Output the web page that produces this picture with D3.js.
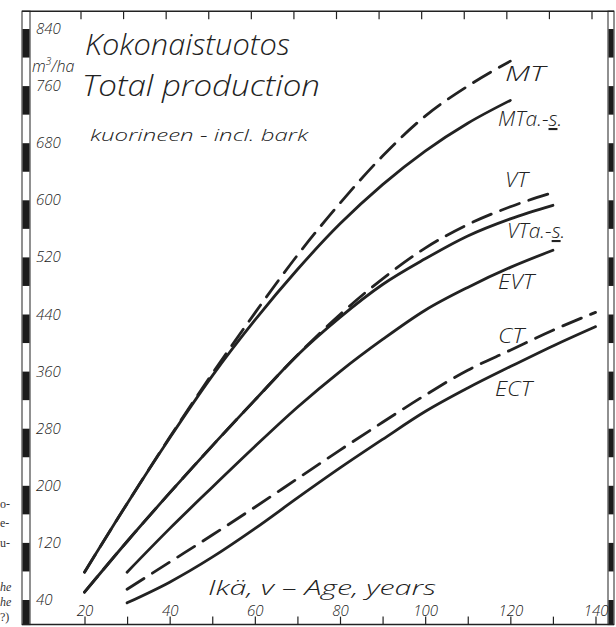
<!DOCTYPE html>
<html><head><meta charset="utf-8">
<script src="https://cdn.jsdelivr.net/npm/d3@7"></script>
<style>body{margin:0;background:#fff} svg{display:block}</style>
</head><body><svg id="c" width="616" height="627"></svg>
<script>
// ---- data ----
const yTickValues = [40,120,200,280,360,440,520,600,680,760,840];
const xTickValues = [20,30,40,50,60,70,80,90,100,110,120,130,140];
const agesTo120 = [20,30,40,50,60,70,80,90,100,110,120];
const agesTo130 = [20,30,40,50,60,70,80,90,100,110,120,130];
const ages30to130 = [30,40,50,60,70,80,90,100,110,120,130];
const ages30to140 = [30,40,50,60,70,80,90,100,110,120,130,140];
const valMT   = [79,175,268,357,442,523,596,662,718,760,795];
const valMTas = [79,175,267,354,432,503,567,622,669,708,740];
const valVT   = [51,122,190,256,320,383,440,490,533,566,591,611];
const valVTas = [51,122,190,256,320,383,436,482,518,550,574,593];
const valEVT  = [79,140,198,255,310,360,405,446,478,506,530];
const valCT   = [55,93,131,170,210,250,289,327,362,390,418,443];
const valECT  = [36,65,100,140,183,225,265,304,337,367,396,423];

const series = [
  {name:"MT",    ages:agesTo120,   vals:valMT,   dashed:true},
  {name:"MTa.-s.",ages:agesTo120,  vals:valMTas, dashed:false},
  {name:"VT",    ages:agesTo130,   vals:valVT,   dashed:true},
  {name:"VTa.-s.",ages:agesTo130,  vals:valVTas, dashed:false},
  {name:"EVT",   ages:ages30to130, vals:valEVT,  dashed:false},
  {name:"CT",    ages:ages30to140, vals:valCT,   dashed:true},
  {name:"ECT",   ages:ages30to140, vals:valECT,  dashed:false}
];

// ---- layout ----
const ink = "#222";
const hand = "'Open Sans','DejaVu Sans',sans-serif";
const hw = 300;
const svg = d3.select("#c");
const x = d3.scaleLinear().domain([20,140]).range([84.5,595.5]);
const y = d3.scaleLinear().domain([40,840]).range([600,29]);
const frameTopVal = 865, frameBotVal = 5.5;
const fTop = y(frameTopVal), fBot = y(frameBotVal);
const leftBar = [22,30], rightBar = [608,614];

// striped bars
function bar(x0,x1){
  const g = svg.append("g");
  g.append("rect").attr("x",x0).attr("y",fTop).attr("width",x1-x0).attr("height",fBot-fTop)
    .attr("fill","#fff").attr("stroke",ink).attr("stroke-width",1);
  const blocks = d3.range(0,881,80).map(v=>[Math.max(v,frameBotVal),Math.min(v+40,frameTopVal)]).filter(b=>b[1]>b[0]);
  g.selectAll("rect.s").data(blocks).join("rect").attr("class","s")
    .attr("x",x0+0.5).attr("width",x1-x0-1)
    .attr("y",d=>y(d[1])).attr("height",d=>y(d[0])-y(d[1])).attr("fill","#1c1c1c");
}
bar(leftBar[0],leftBar[1]);
bar(rightBar[0],rightBar[1]);

// frame lines
svg.append("line").attr("x1",leftBar[0]).attr("x2",rightBar[1]).attr("y1",fTop).attr("y2",fTop).attr("stroke",ink).attr("stroke-width",1.5);
svg.append("line").attr("x1",leftBar[0]).attr("x2",rightBar[1]).attr("y1",fBot).attr("y2",fBot).attr("stroke",ink).attr("stroke-width",1.5);

// bottom axis (ticks up, labels above)
const bAxis = d3.axisTop(x).tickValues(xTickValues).tickSize(8).tickPadding(1)
  .tickFormat(d=> d%20===0 ? d : "");
const bg = svg.append("g").attr("transform",`translate(0,${fBot})`).call(bAxis);
bg.select(".domain").remove();
bg.selectAll("line").attr("stroke",ink).attr("stroke-width",1.2);
bg.selectAll("text").attr("font-family",hand).attr("font-weight",hw).attr("font-style","italic").attr("font-size",15).attr("fill",ink);

// top axis (ticks down)
const tAxis = d3.axisBottom(x).tickValues(xTickValues).tickSize(8).tickFormat("");
const tg = svg.append("g").attr("transform",`translate(-4,${fTop})`).call(tAxis);
tg.select(".domain").remove();
tg.selectAll("line").attr("stroke",ink).attr("stroke-width",1.2);

// y labels
svg.append("g").selectAll("text").data(yTickValues).join("text")
  .attr("x",36).attr("y",d=>y(d)+5).text(d=>d)
  .attr("font-family",hand).attr("font-weight",hw).attr("font-style","italic").attr("font-size",15).attr("fill",ink);
const unit = svg.append("text").attr("x",32).attr("y",72).attr("font-family",hand).attr("font-weight",hw).attr("font-style","italic").attr("font-size",16).attr("fill",ink);
unit.append("tspan").text("m");
unit.append("tspan").text("3").attr("font-size",10).attr("dy",-7);
unit.append("tspan").text("/ha").attr("dy",7);

// curves
const line = d3.line().x(d=>x(d[0])).y(d=>y(d[1])).curve(d3.curveMonotoneX);
svg.append("g").selectAll("path").data(series).join("path")
  .attr("d",s=>line(s.ages.map((a,i)=>[a,s.vals[i]])))
  .attr("fill","none").attr("stroke",ink).attr("stroke-width",2.8)
  .attr("stroke-linecap","round")
  .attr("stroke-dasharray",s=>s.dashed?"20,10":null);

// titles
function txt(t,xx,yy,size,len){
  const e = svg.append("text").attr("x",xx).attr("y",yy).text(t)
    .attr("font-family",hand).attr("font-weight",hw).attr("font-style","italic").attr("font-size",size).attr("fill",ink);
  if(len) e.attr("textLength",len).attr("lengthAdjust","spacingAndGlyphs");
  return e;
}
txt("Kokonaistuotos",85,55,30,205);
txt("Total production",82,96,30,238);
txt("kuorineen - incl. bark",90,141,17,218);
txt("Ikä, v – Age, years",208,595,20,228);

// curve labels
const labels = [
  ["MT",505,81,40],["VT",505,187,23],["EVT",498,289,36],["CT",498,343,26],["ECT",495,396,37]
];
labels.forEach(l=>txt(l[0],l[1],l[2],21,l[3]));
function underS(t,xx,yy){
  const e = svg.append("text").attr("x",xx).attr("y",yy)
    .attr("font-family",hand).attr("font-weight",hw).attr("font-style","italic").attr("font-size",21).attr("fill",ink);
  e.append("tspan").text(t);
  e.append("tspan").text("s").attr("text-decoration","underline");
  e.append("tspan").text(".");
  return e;
}
underS("MTa.-",498,126);
underS("VTa.-",507,238);

// scraps of neighbouring page
const scraps = [["o-",508,false],["e-",527,false],["u-",547,false],["he",591,true],["he",606,true],["?)",621,false]];
svg.append("g").selectAll("text").data(scraps).join("text")
  .attr("x",0).attr("y",d=>d[1]).text(d=>d[0])
  .attr("font-family","'Liberation Serif',serif").attr("font-style",d=>d[2]?"italic":"normal")
  .attr("font-size",12).attr("fill","#333");
</script></body></html>
